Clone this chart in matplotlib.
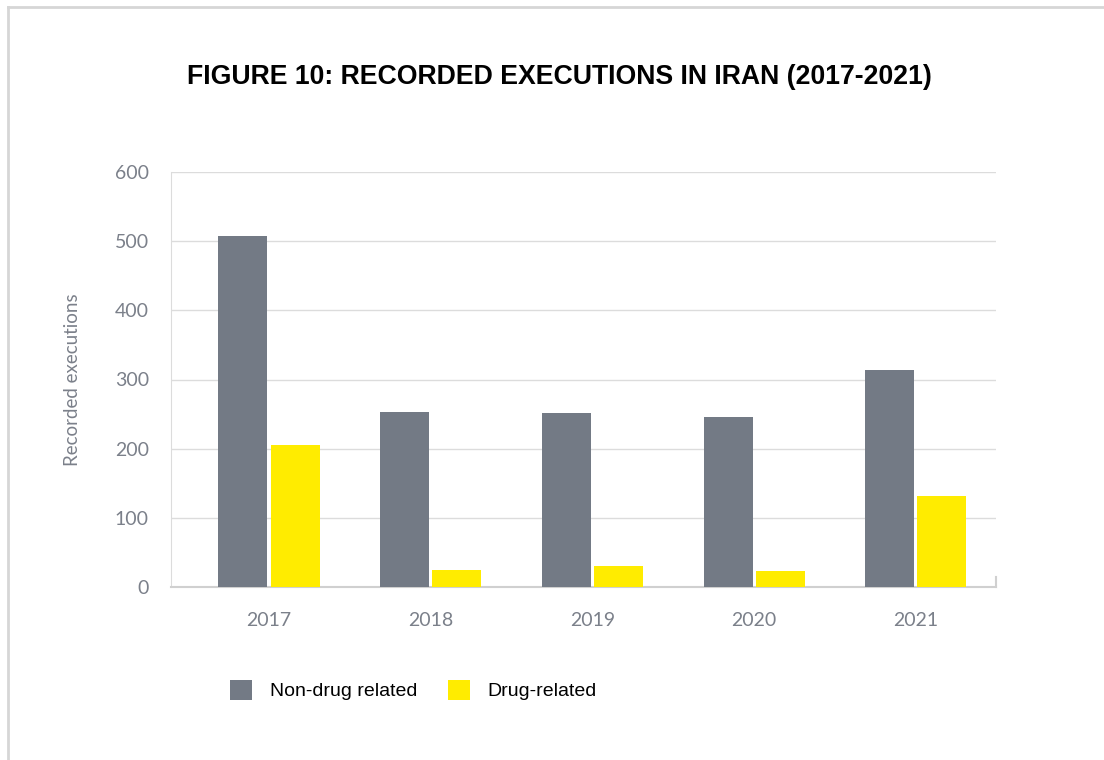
import numpy as np
import matplotlib
matplotlib.use("Agg")
import matplotlib.pyplot as plt
from matplotlib.lines import Line2D

# ---- 数据 ----
years = ["2017", "2018", "2019", "2020", "2021"]
non_drug = [507, 253, 251, 246, 314]
drug = [205, 25, 30, 23, 132]
series_names = ["Non-drug related", "Drug-related"]
title = "FIGURE 10: RECORDED EXECUTIONS IN IRAN (2017-2021)"
y_label = "Recorded executions"
y_ticks = [0, 100, 200, 300, 400, 500, 600]

GREY = "#737a85"
YELLOW = "#ffec00"
LABEL = "#7b808a"
GRID = "#dcdcdc"

light = "Lato"              # 坐标轴文字
head = "Liberation Sans"    # 标题/图例（没有窄体，用较窄的 Liberation）

fig = plt.figure(figsize=(11.04, 7.6), dpi=100)
W, H = 1104, 760

# 外框（左、上）
fig.add_artist(Line2D([8 / W, 8 / W], [0, 1 - 7 / H], color="#d6d6d6", lw=2))
fig.add_artist(Line2D([8 / W, 1], [1 - 7 / H, 1 - 7 / H], color="#d6d6d6", lw=2))

ax = fig.add_axes([171 / W, 1 - 587 / H, (996 - 171) / W, (587 - 172) / H])

x = np.arange(len(years))
bw = 0.303
off = 0.161
ax.bar(x - off, non_drug, bw, color=GREY, label=series_names[0], zorder=3)
ax.bar(x + off, drug, bw, color=YELLOW, label=series_names[1], zorder=3)

ax.set_xlim(-0.606, 4.495)
ax.set_ylim(0, 600)
ax.set_yticks(y_ticks)
ax.set_xticks(x)
ax.set_xticklabels(years)
ax.yaxis.grid(True, color=GRID, lw=1, zorder=0)
ax.set_axisbelow(True)

for s in ["top", "right"]:
    ax.spines[s].set_visible(False)
ax.spines["left"].set_color(GRID)
ax.spines["bottom"].set_color("#d0d0d0")
ax.spines["bottom"].set_linewidth(1.5)
# 右端小刻度
ax.plot([1, 1], [0, 0.024], transform=ax.transAxes, color="#d0d0d0", lw=1.5, clip_on=False)

ax.tick_params(axis="both", length=0)
ax.tick_params(axis="y", pad=16)
ax.tick_params(axis="x", pad=18)
for lab in ax.get_yticklabels() + ax.get_xticklabels():
    lab.set_fontfamily(light)
    lab.set_fontsize(14)
    lab.set_color(LABEL)

ax.set_ylabel(y_label, fontfamily=light, fontsize=13.5, color=LABEL, labelpad=24)

fig.text(559 / W, 1 - 77 / H, title, ha="center", va="center",
         fontfamily=head, fontweight="bold", fontsize=19.2, color="black")

leg = fig.legend(loc="center left", bbox_to_anchor=(230 / W, 1 - 690 / H),
                 ncol=2, frameon=False, borderpad=0, borderaxespad=0,
                 handlelength=1.13, handleheight=1.24,
                 handletextpad=0.93, columnspacing=1.55,
                 prop={"family": head, "size": 14})

fig.savefig("out.png", dpi=100)
